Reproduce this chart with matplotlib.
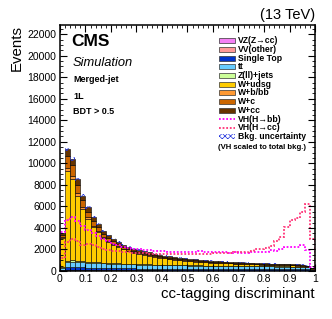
import numpy as np
import matplotlib
matplotlib.use('Agg')
import matplotlib.pyplot as plt
from matplotlib.patches import Rectangle
from matplotlib.lines import Line2D
from matplotlib.ticker import MultipleLocator, FuncFormatter

plt.rcParams['font.family'] = ['Liberation Sans', 'DejaVu Sans']
plt.rcParams['hatch.linewidth'] = 0.5

# 50 bins of width 0.02 in the cc-tagging discriminant
edges = np.linspace(0., 1., 51)

# background components (events per bin), bottom of stack first
vz = [15, 40, 40, 35, 32, 30, 28, 26, 24, 22, 20, 19, 18, 17, 16, 15, 15, 14, 14, 13,
      13, 12, 12, 12, 11, 11, 11, 10, 10, 10, 10, 10, 9, 9, 9, 9, 9, 9, 8, 8,
      8, 8, 8, 8, 8, 8, 7, 7, 6, 4]
vv = [30, 80, 80, 75, 70, 65, 60, 55, 50, 48, 46, 44, 42, 40, 38, 37, 36, 35, 34, 33,
      32, 31, 30, 29, 28, 27, 27, 26, 26, 25, 25, 24, 24, 23, 23, 22, 22, 22, 21, 21,
      21, 21, 20, 20, 20, 20, 19, 18, 16, 10]
stop = [80, 250, 250, 240, 230, 220, 215, 210, 205, 200, 196, 192, 188, 185, 182, 179, 176, 173, 171, 169,
        167, 165, 163, 162, 161, 160, 159, 158, 157, 156, 155, 154, 153, 152, 151, 150, 150, 150, 150, 150,
        150, 150, 150, 150, 150, 148, 145, 138, 120, 75]
ttbar = [150, 450, 470, 470, 460, 450, 440, 430, 420, 410, 400, 392, 385, 378, 372, 366, 360, 354, 348, 342,
         336, 330, 324, 318, 312, 306, 300, 295, 290, 285, 281, 277, 273, 269, 265, 261, 257, 253, 249, 245,
         242, 239, 236, 233, 230, 226, 220, 210, 185, 110]
zjets = [50, 150, 140, 120, 100, 90, 80, 72, 65, 60, 55, 50, 46, 43, 40, 38, 36, 34, 32, 31,
         30, 29, 28, 27, 26, 25, 24, 23, 22, 21, 20, 20, 19, 19, 18, 18, 17, 17, 16, 16,
         16, 16, 15, 15, 15, 15, 14, 13, 11, 7]
wudsg = [2700, 8300, 7540, 6030, 4840, 3965, 3260, 2800, 2256, 1952, 1733, 1511, 1326, 1177, 1028, 962, 894, 802, 730, 658,
         585, 547, 508, 467, 428, 386, 353, 330, 304, 288, 269, 251, 233, 224, 205, 195, 183, 170, 160, 148,
         134, 129, 126, 120, 115, 102, 98, 84, 65, 36]
wbb = [100, 300, 280, 230, 190, 160, 135, 118, 100, 88, 80, 72, 65, 60, 54, 51, 48, 44, 41, 38,
       35, 33, 31, 30, 28, 27, 26, 25, 24, 23, 23, 22, 22, 21, 21, 20, 20, 20, 20, 19,
       19, 19, 19, 19, 19, 19, 18, 17, 15, 9]
wc = [250, 1100, 1000, 800, 650, 540, 450, 390, 320, 280, 250, 220, 195, 178, 160, 150, 140, 128, 120, 112,
      104, 99, 94, 89, 84, 80, 76, 73, 70, 68, 66, 64, 62, 60, 58, 57, 56, 55, 54, 53,
      52, 52, 51, 51, 50, 50, 48, 45, 40, 24]
wcc = [125, 630, 600, 500, 430, 380, 330, 300, 260, 240, 220, 200, 185, 172, 160, 152, 145, 136, 130, 124,
       118, 114, 110, 106, 102, 98, 94, 90, 87, 84, 81, 78, 75, 73, 70, 68, 66, 64, 62, 60,
       58, 56, 55, 54, 53, 52, 51, 48, 42, 25]

# background uncertainty (events per bin)
bkg_unc = [60, 160, 150, 130, 115, 100, 90, 85, 75, 70, 65, 60, 57, 54, 50, 48, 46, 44, 42, 40,
           38, 37, 36, 35, 34, 33, 32, 31, 30, 30, 29, 29, 28, 28, 27, 27, 27, 26, 26, 26,
           25, 25, 25, 25, 25, 25, 24, 23, 21, 16]

# signals, scaled to total background
vh_bb = [3600, 4700, 5000, 4600, 4200, 3800, 3500, 3250, 3000, 2750, 2550, 2400, 2250, 2150, 2070, 2000, 1950, 1920, 1880, 1850,
         1820, 1800, 1790, 1780, 1760, 1800, 1780, 1850, 1780, 1750, 1740, 1720, 1730, 1700, 1720, 1700, 1700, 1720, 1740, 1760,
         1750, 1950, 1900, 2050, 2250, 2200, 2200, 2400, 1960, 400]
vh_cc = [1200, 2700, 2950, 2750, 2450, 2500, 2400, 2200, 2050, 1950, 1900, 1850, 1800, 1750, 1700, 1680, 1650, 1620, 1600, 1600,
         1580, 1600, 1570, 1560, 1580, 1600, 1570, 1600, 1620, 1600, 1630, 1650, 1640, 1640, 1720, 1750, 1800, 1850, 2000, 2050,
         2100, 2300, 2750, 3200, 4100, 4700, 4900, 5500, 6200, 3000]

components = [
    ('VZ(Z\u2192cc)', vz, '#f580f5'),
    ('VV(other)', vv, '#ff9999'),
    ('Single Top', stop, '#0033cc'),
    ('tt', ttbar, '#66ccff'),
    ('Z(ll)+jets', zjets, '#ccff99'),
    ('W+udsg', wudsg, '#ffcc00'),
    ('W+b/bb', wbb, '#ff9933'),
    ('W+c', wc, '#cc6600'),
    ('W+cc', wcc, '#663300'),
]
col_bb = '#ff00ff'
col_cc = '#ff3377'

fig = plt.figure(figsize=(3.32, 3.19), dpi=100)
ax = fig.add_axes([0.1807, 0.1505, 0.7681, 0.7711])

width = np.diff(edges)
bottom = np.zeros(len(edges) - 1)
for name, vals, col in components:
    vals = np.array(vals, dtype=float)
    ax.bar(edges[:-1], vals, width=width, bottom=bottom, align='edge',
           color=col, edgecolor='black', linewidth=0.4)
    bottom = bottom + vals
total = bottom

unc = np.array(bkg_unc, dtype=float)
ax.bar(edges[:-1], 2 * unc, width=width, bottom=total - unc, align='edge',
       fill=False, hatch='xxxxxx', edgecolor='#2233dd', linewidth=0)

ax.stairs(vh_bb, edges, color=col_bb, linestyle=(0, (1, 1)), linewidth=1.3)
ax.stairs(vh_cc, edges, color=col_cc, linestyle=(0, (1, 1)), linewidth=1.3)

ax.set_xlim(0, 1)
ax.set_ylim(0, 22850)
ax.xaxis.set_major_locator(MultipleLocator(0.1))
ax.xaxis.set_minor_locator(MultipleLocator(0.02))
ax.yaxis.set_major_locator(MultipleLocator(2000))
ax.yaxis.set_minor_locator(MultipleLocator(500))
ax.xaxis.set_major_formatter(FuncFormatter(lambda v, p: '%g' % round(v, 2)))
ax.tick_params(which='both', direction='in', top=True, right=True, labelsize=7.5, pad=2.5)
ax.tick_params(which='major', length=5, width=0.8)
ax.tick_params(which='minor', length=2.5, width=0.6)
for s in ax.spines.values():
    s.set_linewidth(1.1)

ax.set_xlabel('cc-tagging discriminant', fontsize=10.8, loc='right', labelpad=2)
ax.set_ylabel('Events', fontsize=10.8, loc='top', labelpad=3)

ax.text(1.0, 1.012, '(13 TeV)', transform=ax.transAxes, ha='right', va='bottom', fontsize=10.5)
ax.text(0.043, 0.965, 'CMS', transform=ax.transAxes, ha='left', va='top', fontsize=12.5, fontweight='bold')
ax.text(0.051, 0.846, 'Simulation', transform=ax.transAxes, ha='left', va='center', fontsize=9.3, style='italic')
ax.text(0.051, 0.778, 'Merged-jet', transform=ax.transAxes, ha='left', va='center', fontsize=6.5, fontweight='bold')
ax.text(0.051, 0.709, '1L', transform=ax.transAxes, ha='left', va='center', fontsize=6.5, fontweight='bold')
ax.text(0.051, 0.650, 'BDT > 0.5', transform=ax.transAxes, ha='left', va='center', fontsize=6.5, fontweight='bold')

# legend drawn by hand, in axes fraction
lx0, lx1, tx = 0.6235, 0.686, 0.698
y0, dy, bh = (271 - 40.7) / 246., 8.7 / 246., 5.0 / 246.
entries = [(n, c) for n, v, c in components]
for i, (name, col) in enumerate(entries):
    yc = y0 - i * dy
    ax.add_patch(Rectangle((lx0, yc - bh / 2), lx1 - lx0, bh, transform=ax.transAxes,
                           facecolor=col, edgecolor='#333333', linewidth=0.5))
    ax.text(tx, yc, name, transform=ax.transAxes, ha='left', va='center', fontsize=6.2, fontweight='bold')
i = len(entries)
for name, col in [('VH(H\u2192bb)', col_bb), ('VH(H\u2192cc)', col_cc)]:
    yc = y0 - i * dy
    ax.add_line(Line2D([lx0, lx1], [yc, yc], transform=ax.transAxes, color=col,
                       linestyle=(0, (1, 1)), linewidth=1.3))
    ax.text(tx, yc, name, transform=ax.transAxes, ha='left', va='center', fontsize=6.2, fontweight='bold')
    i += 1
yc = y0 - i * dy
ax.add_patch(Rectangle((lx0, yc - bh / 2), lx1 - lx0, bh, transform=ax.transAxes,
                       fill=False, hatch='xxxxxx', edgecolor='#2233dd', linewidth=0))
ax.text(tx, yc, 'Bkg. uncertainty', transform=ax.transAxes, ha='left', va='center', fontsize=6.2, fontweight='bold')
ax.text(0.62, (271 - 147.) / 246., '(VH scaled to total bkg.)', transform=ax.transAxes,
        ha='left', va='center', fontsize=5.6, fontweight='bold')

fig.savefig('out.png', dpi=100)
